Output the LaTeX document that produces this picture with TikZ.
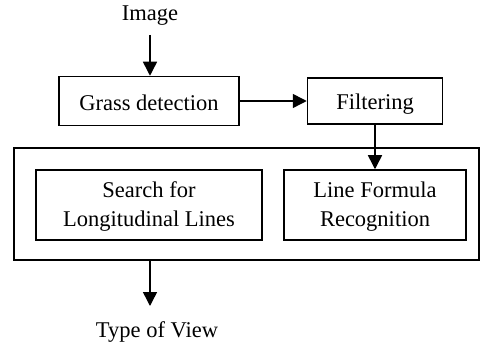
\documentclass[tikz,border=0pt]{standalone}
\usepackage{fontspec}
\setmainfont{Liberation Serif}
\usetikzlibrary{arrows.meta}
\begin{document}
\begin{tikzpicture}[x=1pt,y=-1pt,
  box/.style={draw,line width=1.5pt,inner sep=0pt,font=\fontsize{22.5}{29}\selectfont,align=center},
  lbl/.style={inner sep=0pt,font=\fontsize{22.5}{29}\selectfont},
  arr/.style={line width=1.5pt,-{Triangle[length=14pt,width=14pt]}}]
\useasboundingbox (0,0) rectangle (480,345);
\node[lbl] (img) at (150,16) {Image};
\node[box,minimum width=180pt,minimum height=49pt] (grass) at (149,101) {};
\node[lbl] at (149,103) {Grass detection};
\node[box,minimum width=135pt,minimum height=46pt] (filt) at (375,101) {};
\node[lbl] at (375,104) {Filtering};
\node[draw,line width=1.5pt,inner sep=0pt,minimum width=465pt,minimum height=112pt] (outer) at (246.5,204) {};
\node[box,minimum width=226pt,minimum height=70pt] (search) at (149,205) {};
\node[lbl,align=center] at (149,207) {Search for\\Longitudinal Lines};
\node[box,minimum width=182pt,minimum height=70pt] (line) at (375,205) {};
\node[lbl,align=center] at (375,207) {Line Formula\\Recognition};
\node[lbl] (tov) at (157,332) {Type of View};
\draw[arr] (150,35) -- (grass.north -| 150,0);
\draw[arr] (grass.east) -- (filt.west);
\draw[arr] (filt.south) -- (line.north);
\coordinate (ob) at (outer.south -| 150,0);
\coordinate (tv) at (150,306);
\draw[arr] (ob) -- (tv);
\end{tikzpicture}
\end{document}
